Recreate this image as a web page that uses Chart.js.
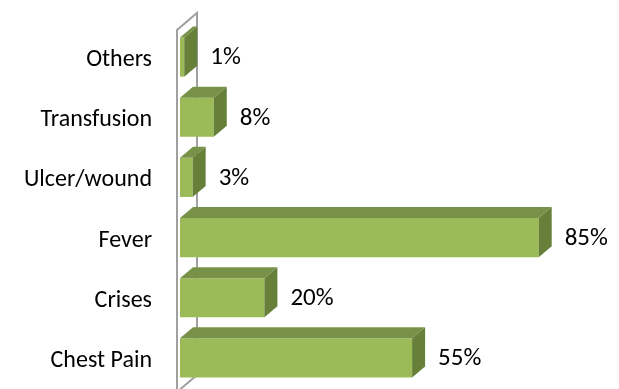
<!DOCTYPE html>
<html>
<head>
<meta charset="utf-8">
<script src="https://cdn.jsdelivr.net/npm/chart.js@4"></script>
<style>
html,body{margin:0;padding:0;background:#fff;overflow:hidden;}
#wrap{width:619px;height:389px;position:relative;}
</style>
</head>
<body>
<div id="wrap"><canvas id="c"></canvas></div>
<script>
const categories = ["Others", "Transfusion", "Ulcer/wound", "Fever", "Crises", "Chest Pain"];
const values = [1, 8, 3, 85, 20, 55];
const valueLabels = ["1%", "8%", "3%", "85%", "20%", "55%"];

const FRONT = "#9BBB59", TOP = "#779248", SIDE = "#66803A", WALL = "#A0A0A0";
const DX = 13, DY = 11;
const FONT = "Carlito, Lato, 'Open Sans', sans-serif";
const FSIZE = 24;
const VSIZE = 25;

const bar3d = {
  id: "bar3d",
  beforeDatasetsDraw(chart) {
    const ctx = chart.ctx, a = chart.chartArea;
    ctx.save();
    ctx.strokeStyle = WALL; ctx.lineWidth = 2;
    const fx = a.left - 3, bx = fx + 20, dy = 17;
    ctx.beginPath();
    ctx.moveTo(fx, a.bottom + 4); ctx.lineTo(fx, a.top + 3);
    ctx.lineTo(bx, a.top + 3 - dy); ctx.lineTo(bx, a.bottom + 4 - dy);
    ctx.lineTo(fx, a.bottom + 4);
    ctx.stroke();
    ctx.restore();
  },
  afterDatasetsDraw(chart) {
    const ctx = chart.ctx;
    const meta = chart.getDatasetMeta(0);
    ctx.save();
    meta.data.forEach((el, i) => {
      const p = el.getProps(["x", "y", "base", "height"], true);
      const x0 = p.base, x1 = p.x, y0 = p.y - p.height / 2, y1 = p.y + p.height / 2;
      ctx.fillStyle = TOP;
      ctx.beginPath();
      ctx.moveTo(x0, y0); ctx.lineTo(x0 + DX, y0 - DY); ctx.lineTo(x1 + DX, y0 - DY); ctx.lineTo(x1, y0);
      ctx.closePath(); ctx.fill();
      ctx.fillStyle = SIDE;
      ctx.beginPath();
      ctx.moveTo(x1, y0); ctx.lineTo(x1 + DX, y0 - DY); ctx.lineTo(x1 + DX, y1 - DY); ctx.lineTo(x1, y1);
      ctx.closePath(); ctx.fill();
      ctx.fillStyle = "#000";
      ctx.font = VSIZE + "px " + FONT;
      ctx.textBaseline = "middle";
      ctx.textAlign = "left";
      ctx.fillText(valueLabels[i], x1 + DX + 13, p.y + 1);
    });
    ctx.restore();
  }
};

new Chart(document.getElementById("c"), {
  type: "bar",
  data: {
    labels: categories,
    datasets: [{
      data: values,
      backgroundColor: FRONT,
      borderWidth: 0,
      barPercentage: 0.65,
      categoryPercentage: 1
    }]
  },
  options: {
    indexAxis: "y",
    responsive: true,
    maintainAspectRatio: false,
    animation: false,
    layout: { autoPadding: false, padding: { top: 27, bottom: 1, right: 17, left: 0 } },
    plugins: { legend: { display: false }, tooltip: { enabled: false } },
    scales: {
      x: { display: false, min: 0, max: 100 },
      y: {
        grid: { display: false, drawTicks: false },
        border: { display: false },
        ticks: { color: "#000", font: { family: FONT, size: FSIZE }, padding: 28, labelOffset: 3 },
        afterFit(s) { s.width = 180; s.paddingTop = 0; s.paddingBottom = 0; }
      }
    }
  },
  plugins: [bar3d]
});
</script>
</body>
</html>
